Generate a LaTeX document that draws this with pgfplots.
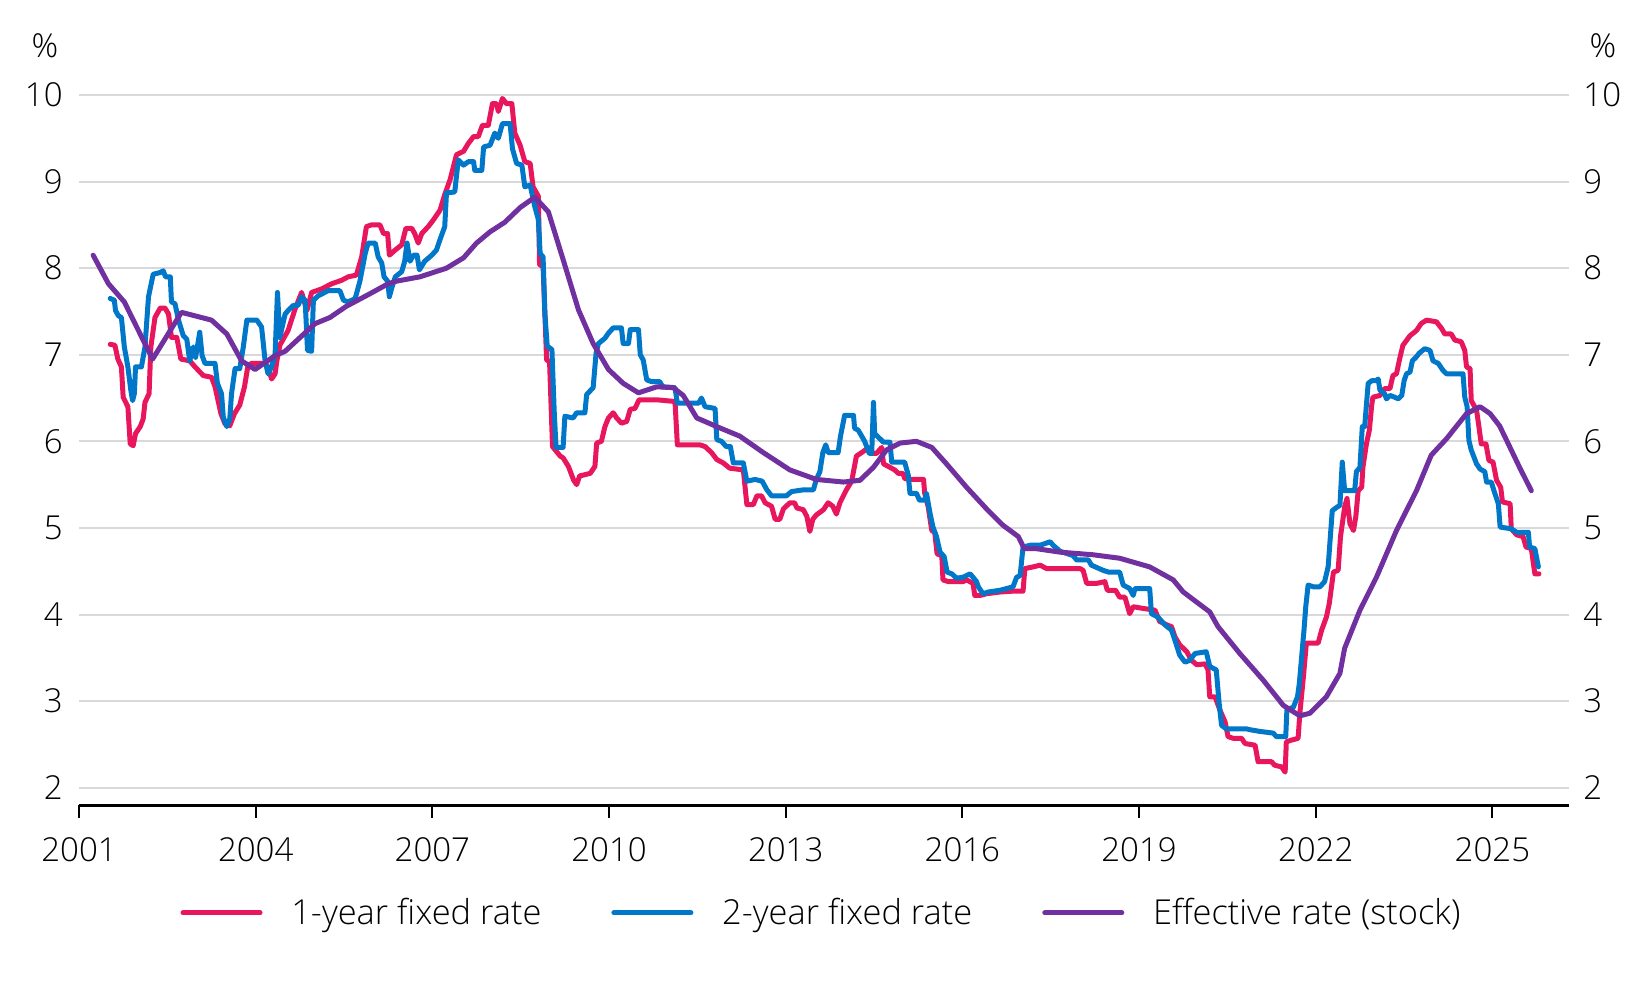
\documentclass[border=0pt]{standalone}
\usepackage{fontspec}
\setmainfont{Open Sans}[UprightFont=* Light]
\usepackage{pgfplots}
\pgfplotsset{compat=1.18}
\definecolor{cRed}{HTML}{E8175D}
\definecolor{cBlue}{HTML}{0077C8}
\definecolor{cPurple}{HTML}{7030A0}
\definecolor{cGrid}{HTML}{D9D9D9}
\newcommand{\fs}{\fontsize{16.5}{20}\selectfont}
\newcommand{\fl}{\fontsize{17.2}{20}\selectfont}
\begin{document}
\begin{tikzpicture}
\useasboundingbox (0,0) rectangle (824pt,490pt);
\begin{axis}[
  at={(39.5pt,87.5pt)}, anchor=south west,
  scale only axis, width=745pt, height=355pt,
  xmin=2001, xmax=2026.3, ymin=1.8, ymax=10,
  clip=false,
  axis x line*=bottom, axis y line*=left,
  y axis line style={draw=none},
  x axis line style={black, line width=1.5pt, -},
  xtick={2001,2004,...,2025},
  ytick={2,...,10},
  xtick align=outside, major tick length=6.5pt,
  xtick style={black, line width=1pt},
  ytick style={draw=none},
  ymajorgrids, grid style={cGrid, line width=1pt},
  tick label style={font=\fs},
  /pgf/number format/assume math mode=true,
  /pgf/number format/1000 sep={},
  yticklabel style={anchor=east, inner sep=0pt, xshift=-8pt},
  xticklabel style={anchor=north, inner sep=0pt, yshift=-9.5pt},
  legend style={at={(0.499,-0.152)}, anchor=center, draw=none, fill=none,
    font=\fl, legend columns=3,
    /tikz/every odd column/.append style={column sep=12.4pt},
    /tikz/every even column/.append style={column sep=33pt}},
  legend image code/.code={\draw[#1] (0pt,0pt) -- (38.5pt,0pt);},
  legend cell align=left,
  every axis plot/.append style={line width=2.5pt, line join=round, line cap=round},
]
\addplot[cRed] coordinates {
(2001.53,7.12)(2001.61,7.11)(2001.66,6.95)(2001.72,6.86)(2001.75,6.51)(2001.83,6.40)(2001.87,5.97)(2001.92,5.95)(2001.96,6.09)(2002.04,6.17)(2002.09,6.26)(2002.12,6.45)(2002.19,6.55)(2002.22,7.09)(2002.29,7.43)(2002.38,7.54)(2002.46,7.54)(2002.52,7.47)(2002.57,7.20)(2002.66,7.20)(2002.73,6.95)(2002.88,6.93)(2002.97,6.86)(2003.11,6.76)(2003.25,6.74)(2003.31,6.63)(2003.41,6.32)(2003.48,6.20)(2003.56,6.18)(2003.64,6.32)(2003.73,6.42)(2003.81,6.63)(2003.87,6.88)(2003.93,6.90)(2004.16,6.90)(2004.21,6.86)(2004.27,6.72)(2004.33,6.78)(2004.36,6.93)(2004.41,7.11)(2004.55,7.28)(2004.67,7.53)(2004.78,7.72)(2004.87,7.51)(2004.95,7.72)(2005.12,7.76)(2005.29,7.82)(2005.46,7.86)(2005.57,7.90)(2005.71,7.92)(2005.80,8.13)(2005.88,8.48)(2005.97,8.50)(2006.11,8.50)(2006.17,8.40)(2006.24,8.40)(2006.27,8.15)(2006.37,8.21)(2006.48,8.27)(2006.55,8.46)(2006.65,8.46)(2006.70,8.40)(2006.76,8.29)(2006.82,8.40)(2006.93,8.48)(2007.02,8.56)(2007.13,8.67)(2007.21,8.85)(2007.30,9.02)(2007.41,9.31)(2007.53,9.35)(2007.61,9.44)(2007.70,9.52)(2007.78,9.52)(2007.85,9.65)(2007.95,9.65)(2008.02,9.90)(2008.09,9.90)(2008.12,9.81)(2008.19,9.96)(2008.26,9.90)(2008.35,9.90)(2008.40,9.56)(2008.49,9.42)(2008.57,9.23)(2008.66,9.21)(2008.71,8.94)(2008.80,8.83)(2008.82,8.04)(2008.88,8.02)(2008.91,7.48)(2008.94,6.94)(2008.99,6.92)(2009.04,5.94)(2009.17,5.83)(2009.22,5.81)(2009.31,5.71)(2009.40,5.55)(2009.45,5.50)(2009.50,5.60)(2009.68,5.63)(2009.76,5.71)(2009.79,5.98)(2009.87,6.00)(2009.93,6.17)(2009.99,6.27)(2010.07,6.33)(2010.13,6.27)(2010.21,6.21)(2010.30,6.23)(2010.36,6.37)(2010.44,6.38)(2010.51,6.48)(2010.81,6.48)(2011.12,6.46)(2011.16,5.96)(2011.54,5.96)(2011.63,5.94)(2011.74,5.87)(2011.83,5.79)(2011.94,5.75)(2012.05,5.69)(2012.28,5.67)(2012.34,5.27)(2012.45,5.27)(2012.51,5.37)(2012.59,5.37)(2012.65,5.29)(2012.76,5.25)(2012.82,5.10)(2012.90,5.10)(2012.96,5.22)(2013.07,5.29)(2013.15,5.29)(2013.19,5.23)(2013.30,5.21)(2013.36,5.13)(2013.41,4.96)(2013.46,5.10)(2013.52,5.15)(2013.64,5.21)(2013.72,5.29)(2013.80,5.25)(2013.86,5.16)(2013.92,5.29)(2014.03,5.44)(2014.12,5.54)(2014.20,5.83)(2014.29,5.87)(2014.37,5.91)(2014.45,5.86)(2014.54,5.86)(2014.63,5.93)(2014.66,5.74)(2014.77,5.70)(2014.85,5.67)(2014.91,5.63)(2014.99,5.63)(2015.02,5.57)(2015.11,5.56)(2015.34,5.56)(2015.36,5.40)(2015.42,5.24)(2015.48,4.97)(2015.53,4.95)(2015.57,4.70)(2015.65,4.68)(2015.67,4.40)(2015.76,4.38)(2016.01,4.38)(2016.07,4.40)(2016.18,4.36)(2016.21,4.22)(2016.30,4.22)(2016.41,4.24)(2016.64,4.26)(2016.86,4.27)(2017.03,4.27)(2017.06,4.53)(2017.20,4.55)(2017.32,4.57)(2017.43,4.53)(2018.00,4.53)(2018.05,4.51)(2018.11,4.36)(2018.28,4.36)(2018.42,4.38)(2018.46,4.28)(2018.60,4.28)(2018.67,4.20)(2018.76,4.20)(2018.84,4.01)(2018.90,4.09)(2019.07,4.07)(2019.27,4.05)(2019.35,3.92)(2019.47,3.88)(2019.55,3.86)(2019.61,3.74)(2019.69,3.65)(2019.81,3.57)(2019.89,3.47)(2019.98,3.42)(2020.12,3.43)(2020.17,3.36)(2020.20,3.05)(2020.29,3.05)(2020.37,2.90)(2020.46,2.76)(2020.51,2.59)(2020.60,2.57)(2020.74,2.57)(2020.80,2.51)(2020.97,2.49)(2021.02,2.30)(2021.25,2.30)(2021.30,2.26)(2021.42,2.24)(2021.48,2.18)(2021.50,2.53)(2021.59,2.55)(2021.70,2.57)(2021.73,2.86)(2021.79,3.28)(2021.84,3.67)(2022.04,3.67)(2022.10,3.82)(2022.18,3.97)(2022.23,4.13)(2022.30,4.49)(2022.38,4.51)(2022.42,4.90)(2022.49,5.24)(2022.53,5.34)(2022.58,5.05)(2022.64,4.97)(2022.68,5.13)(2022.72,5.43)(2022.78,5.47)(2022.80,5.70)(2022.86,5.97)(2022.91,6.13)(2022.95,6.42)(2022.97,6.51)(2023.09,6.53)(2023.17,6.61)(2023.26,6.61)(2023.31,6.76)(2023.37,6.78)(2023.43,6.97)(2023.48,7.11)(2023.60,7.22)(2023.71,7.28)(2023.79,7.36)(2023.88,7.40)(2024.05,7.38)(2024.14,7.30)(2024.19,7.24)(2024.30,7.24)(2024.36,7.17)(2024.47,7.15)(2024.53,7.05)(2024.56,6.86)(2024.62,6.84)(2024.64,6.47)(2024.73,6.36)(2024.77,6.17)(2024.81,5.97)(2024.89,5.97)(2024.94,5.78)(2025.01,5.76)(2025.07,5.55)(2025.14,5.47)(2025.17,5.30)(2025.30,5.28)(2025.32,4.99)(2025.41,4.92)(2025.52,4.90)(2025.57,4.78)(2025.66,4.76)(2025.72,4.47)(2025.79,4.47)
};
\addlegendentry{1-year fixed rate}
\addplot[cBlue] coordinates {
(2001.53,7.65)(2001.60,7.63)(2001.62,7.51)(2001.67,7.45)(2001.72,7.43)(2001.77,7.09)(2001.83,6.86)(2001.88,6.59)(2001.91,6.47)(2001.94,6.55)(2001.96,6.86)(2002.06,6.86)(2002.12,7.09)(2002.18,7.67)(2002.26,7.93)(2002.38,7.95)(2002.43,7.97)(2002.47,7.90)(2002.55,7.90)(2002.57,7.61)(2002.63,7.59)(2002.69,7.40)(2002.77,7.22)(2002.83,7.18)(2002.88,6.93)(2002.94,7.09)(2002.98,6.97)(2003.05,7.26)(2003.09,6.99)(2003.14,6.90)(2003.31,6.90)(2003.35,6.67)(2003.42,6.55)(2003.45,6.28)(2003.51,6.17)(2003.56,6.26)(2003.59,6.55)(2003.65,6.84)(2003.73,6.84)(2003.79,7.09)(2003.85,7.40)(2004.02,7.40)(2004.10,7.32)(2004.16,6.93)(2004.21,6.78)(2004.27,6.86)(2004.33,7.01)(2004.37,7.72)(2004.41,7.20)(2004.50,7.47)(2004.55,7.51)(2004.64,7.57)(2004.72,7.57)(2004.78,7.67)(2004.84,7.63)(2004.88,7.05)(2004.95,7.04)(2004.98,7.63)(2005.06,7.68)(2005.23,7.74)(2005.43,7.74)(2005.49,7.63)(2005.57,7.61)(2005.69,7.65)(2005.77,7.85)(2005.86,8.17)(2005.91,8.29)(2006.03,8.29)(2006.08,8.13)(2006.14,8.06)(2006.18,7.90)(2006.24,7.85)(2006.27,7.67)(2006.31,7.77)(2006.37,7.90)(2006.48,7.96)(2006.53,8.08)(2006.57,8.29)(2006.62,8.08)(2006.68,8.15)(2006.74,8.15)(2006.78,7.98)(2006.87,8.08)(2006.99,8.15)(2007.07,8.21)(2007.13,8.33)(2007.21,8.48)(2007.24,8.87)(2007.38,8.88)(2007.44,9.25)(2007.53,9.19)(2007.61,9.23)(2007.70,9.23)(2007.72,9.13)(2007.84,9.13)(2007.87,9.40)(2007.98,9.42)(2008.06,9.56)(2008.12,9.50)(2008.19,9.67)(2008.32,9.67)(2008.36,9.38)(2008.43,9.21)(2008.52,9.19)(2008.57,8.94)(2008.66,8.96)(2008.74,8.71)(2008.80,8.56)(2008.83,8.17)(2008.88,8.13)(2008.91,7.48)(2008.95,7.10)(2009.03,7.06)(2009.07,6.33)(2009.10,5.93)(2009.22,5.93)(2009.25,6.29)(2009.39,6.27)(2009.45,6.33)(2009.59,6.33)(2009.62,6.54)(2009.73,6.62)(2009.78,7.02)(2009.82,7.13)(2009.93,7.19)(2009.99,7.25)(2010.07,7.31)(2010.21,7.31)(2010.24,7.13)(2010.33,7.13)(2010.36,7.29)(2010.50,7.29)(2010.53,7.00)(2010.58,6.94)(2010.64,6.71)(2010.72,6.69)(2010.86,6.69)(2010.91,6.63)(2011.12,6.62)(2011.16,6.44)(2011.52,6.44)(2011.57,6.50)(2011.63,6.40)(2011.80,6.38)(2011.83,6.02)(2011.91,6.00)(2011.99,5.94)(2012.06,5.94)(2012.11,5.75)(2012.28,5.75)(2012.34,5.54)(2012.48,5.56)(2012.60,5.54)(2012.68,5.44)(2012.76,5.37)(2013.01,5.37)(2013.10,5.42)(2013.30,5.44)(2013.47,5.44)(2013.52,5.56)(2013.58,5.65)(2013.63,5.87)(2013.68,5.96)(2013.72,5.87)(2013.89,5.87)(2013.93,6.06)(2014.00,6.30)(2014.15,6.30)(2014.17,6.15)(2014.23,6.13)(2014.29,6.06)(2014.34,6.00)(2014.42,5.86)(2014.46,5.86)(2014.49,6.45)(2014.51,6.09)(2014.57,6.05)(2014.66,5.99)(2014.77,5.99)(2014.80,5.76)(2015.02,5.76)(2015.08,5.61)(2015.11,5.40)(2015.22,5.40)(2015.27,5.32)(2015.36,5.32)(2015.39,5.40)(2015.45,5.17)(2015.50,5.01)(2015.56,4.90)(2015.62,4.72)(2015.69,4.67)(2015.74,4.49)(2015.82,4.47)(2015.90,4.42)(2016.01,4.43)(2016.13,4.47)(2016.18,4.43)(2016.24,4.38)(2016.27,4.32)(2016.35,4.24)(2016.44,4.26)(2016.64,4.28)(2016.86,4.32)(2016.92,4.43)(2016.98,4.45)(2017.03,4.78)(2017.15,4.80)(2017.32,4.80)(2017.49,4.84)(2017.54,4.80)(2017.66,4.73)(2017.88,4.68)(2017.94,4.63)(2018.14,4.63)(2018.19,4.57)(2018.39,4.51)(2018.48,4.49)(2018.67,4.49)(2018.73,4.34)(2018.84,4.30)(2018.90,4.22)(2018.93,4.30)(2019.18,4.30)(2019.21,4.01)(2019.32,3.97)(2019.44,3.88)(2019.55,3.82)(2019.61,3.70)(2019.69,3.53)(2019.78,3.45)(2019.86,3.47)(2019.95,3.55)(2020.14,3.57)(2020.20,3.40)(2020.31,3.36)(2020.36,2.97)(2020.40,2.72)(2020.48,2.68)(2020.82,2.68)(2020.88,2.67)(2021.05,2.65)(2021.28,2.63)(2021.33,2.59)(2021.49,2.59)(2021.51,2.90)(2021.62,2.93)(2021.69,3.05)(2021.72,3.20)(2021.76,3.51)(2021.80,3.82)(2021.83,4.09)(2021.87,4.34)(2021.96,4.32)(2022.07,4.32)(2022.15,4.38)(2022.21,4.55)(2022.28,5.20)(2022.36,5.24)(2022.41,5.26)(2022.45,5.76)(2022.49,5.43)(2022.66,5.43)(2022.69,5.65)(2022.75,5.70)(2022.79,6.17)(2022.83,6.17)(2022.89,6.67)(2022.95,6.70)(2023.03,6.70)(2023.06,6.72)(2023.09,6.59)(2023.17,6.55)(2023.20,6.49)(2023.26,6.53)(2023.34,6.51)(2023.40,6.49)(2023.46,6.53)(2023.50,6.70)(2023.54,6.78)(2023.60,6.80)(2023.64,6.93)(2023.70,6.97)(2023.76,7.02)(2023.85,7.07)(2023.94,7.05)(2023.99,6.93)(2024.08,6.90)(2024.16,6.82)(2024.22,6.78)(2024.50,6.78)(2024.53,6.51)(2024.57,6.40)(2024.60,6.01)(2024.64,5.90)(2024.73,5.74)(2024.79,5.68)(2024.87,5.65)(2024.90,5.53)(2024.98,5.53)(2025.04,5.40)(2025.10,5.28)(2025.13,5.01)(2025.32,4.99)(2025.41,4.95)(2025.61,4.95)(2025.63,4.78)(2025.72,4.76)(2025.78,4.55)
};
\addlegendentry{2-year fixed rate}
\addplot[cPurple] coordinates {
(2001.24,8.15)(2001.50,7.82)(2001.77,7.61)(2001.98,7.32)(2002.25,6.95)(2002.74,7.49)(2003.25,7.40)(2003.51,7.24)(2003.76,6.93)(2003.99,6.83)(2004.33,6.99)(2004.50,7.04)(2005.01,7.36)(2005.26,7.43)(2005.54,7.56)(2005.90,7.69)(2006.25,7.82)(2006.39,7.85)(2006.79,7.90)(2007.24,8.00)(2007.53,8.12)(2007.75,8.29)(2007.98,8.42)(2008.23,8.53)(2008.49,8.70)(2008.74,8.82)(2008.97,8.65)(2009.22,8.10)(2009.48,7.52)(2009.73,7.13)(2009.99,6.83)(2010.24,6.67)(2010.50,6.56)(2010.81,6.63)(2011.09,6.62)(2011.26,6.53)(2011.49,6.27)(2011.83,6.17)(2012.22,6.06)(2012.62,5.87)(2013.07,5.67)(2013.52,5.56)(2013.98,5.53)(2014.26,5.55)(2014.49,5.70)(2014.71,5.90)(2014.94,5.98)(2015.22,6.00)(2015.48,5.93)(2015.73,5.74)(2016.07,5.47)(2016.41,5.22)(2016.69,5.03)(2016.95,4.90)(2017.05,4.76)(2017.26,4.76)(2017.66,4.72)(2018.22,4.69)(2018.67,4.65)(2019.18,4.55)(2019.58,4.40)(2019.75,4.26)(2020.20,4.03)(2020.34,3.86)(2020.71,3.55)(2021.11,3.24)(2021.45,2.95)(2021.73,2.83)(2021.90,2.86)(2022.18,3.05)(2022.41,3.32)(2022.49,3.61)(2022.75,4.05)(2023.03,4.43)(2023.37,4.97)(2023.71,5.43)(2023.96,5.84)(2024.22,6.03)(2024.56,6.32)(2024.79,6.40)(2024.96,6.32)(2025.12,6.18)(2025.27,5.97)(2025.46,5.70)(2025.66,5.43)
};
\addlegendentry{Effective rate (stock)}
\node[font=\fs] at (rel axis cs:-0.0228,1.070) {\%};
\node[font=\fs] at (rel axis cs:1.0228,1.070) {\%};
\end{axis}
\begin{axis}[
  at={(39.5pt,87.5pt)}, anchor=south west,
  scale only axis, width=745pt, height=355pt,
  xmin=2001, xmax=2026.3, ymin=1.8, ymax=10,
  axis x line=none, axis y line*=right,
  y axis line style={draw=none},
  ytick={2,...,10}, ytick style={draw=none},
  tick label style={font=\fs},
  /pgf/number format/assume math mode=true,
  yticklabel style={anchor=west, inner sep=0pt, xshift=7pt},
]
\end{axis}
\end{tikzpicture}
\end{document}
